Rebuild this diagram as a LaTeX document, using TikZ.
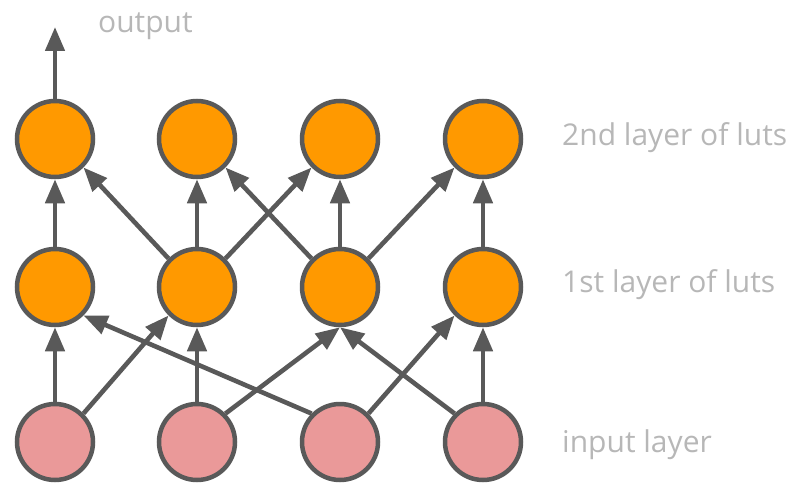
\documentclass[tikz,border=0pt]{standalone}
\usepackage{fontspec}
\setmainfont{Open Sans}
\usetikzlibrary{arrows.meta}
\definecolor{lutorange}{HTML}{FF9900}
\definecolor{inpink}{HTML}{EA9999}
\definecolor{edgegray}{HTML}{595959}
\definecolor{labelgray}{HTML}{B7B7B7}
\tikzset{
  neuron/.style={circle, draw=edgegray, line width=4.5pt, minimum size=76pt, inner sep=0pt},
  lut/.style={neuron, fill=lutorange},
  inp/.style={neuron, fill=inpink},
  conn/.style={draw=edgegray, line width=4.6pt, -{Triangle[length=24pt,width=19pt]}},
  lbl/.style={text=labelgray, font=\fontsize{30}{35}\selectfont, inner sep=0pt, anchor=base west}
}
\begin{document}
\begin{tikzpicture}[x=1pt,y=-1pt]
\useasboundingbox (0,0) rectangle (789,487);
% input layer
\node[inp] (i1) at (55,442) {};
\node[inp] (i2) at (197,442) {};
\node[inp] (i3) at (340,442) {};
\node[inp] (i4) at (483,442) {};
% first layer
\node[lut] (a1) at (55,287) {};
\node[lut] (a2) at (197,287) {};
\node[lut] (a3) at (340,287) {};
\node[lut] (a4) at (483,287) {};
% second layer
\node[lut] (b1) at (55,139) {};
\node[lut] (b2) at (197,139) {};
\node[lut] (b3) at (340,139) {};
\node[lut] (b4) at (483,139) {};
\coordinate (out) at (55,27);
% labels
\node[lbl] (lo) at (98,33) {output};
\node[lbl] (l2) at (562,145) {2nd layer of luts};
\node[lbl] (l1) at (562,292) {1st layer of luts};
\node[lbl] (l0) at (562,452) {input layer};
% input -> first
\draw[conn] (i1.north) -- (a1.south);
\draw[conn] (i1.north east) -- (a2.south west);
\draw[conn] (i2.north) -- (a2.south);
\draw[conn] (i2.north east) -- (a3.south);
\draw[conn] (i3.north west) -- (a1.south east);
\draw[conn] (i3.north east) -- (a4.south west);
\draw[conn] (i4.north) -- (a4.south);
\draw[conn] (i4.north west) -- (a3.south);
% first -> second
\draw[conn] (a1.north) -- (b1.south);
\draw[conn] (a2.north west) -- (b1.south east);
\draw[conn] (a2.north) -- (b2.south);
\draw[conn] (a2.north east) -- (b3.south west);
\draw[conn] (a3.north west) -- (b2.south east);
\draw[conn] (a3.north) -- (b3.south);
\draw[conn] (a3.north east) -- (b4.south west);
\draw[conn] (a4.north) -- (b4.south);
% output
\draw[conn] (b1.north) -- (out);
\end{tikzpicture}
\end{document}
